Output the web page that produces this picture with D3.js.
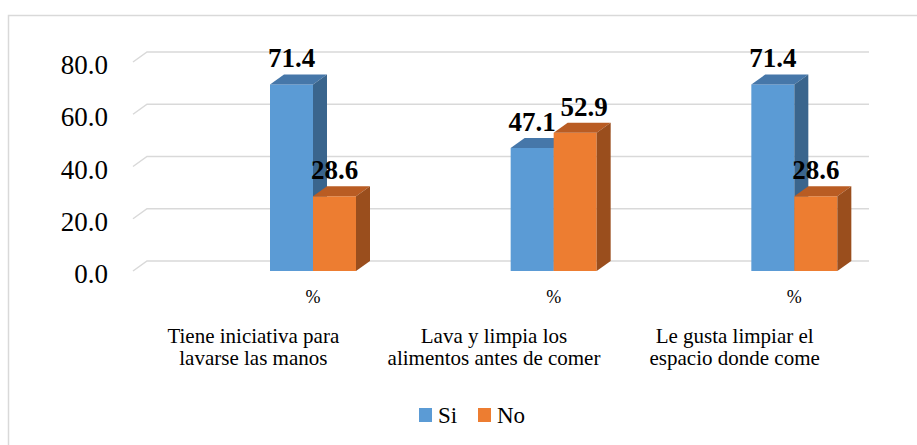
<!DOCTYPE html>
<html><head><meta charset="utf-8">
<script src="https://cdn.jsdelivr.net/npm/d3@7"></script>
<style>
body{margin:0;background:#fff}svg{display:block}
svg text{font-family:"Liberation Serif","Times New Roman",Tinos,serif !important}
</style>
</head><body><svg id="c" width="917" height="445"></svg>
<script>
const categories = [["Tiene iniciativa para","lavarse las manos"],["Lava y limpia los","alimentos antes de comer"],["Le gusta limpiar el","espacio donde come"]];
const subLabel = "%";
const seriesNames = ["Si","No"];
const siValues = [71.4, 47.1, 71.4];
const noValues = [28.6, 52.9, 28.6];
const yTicks = [0, 20, 40, 60, 80];
const colors = {Si:{front:"#5B9BD5",top:"#4677A9",side:"#3A658D"}, No:{front:"#ED7D31",top:"#B95C23",side:"#9A4E1D"}};

const svg = d3.select("#c");
const W=917,H=445;
const txt = (g)=>g.append("text").attr("fill","#000");
svg.append("rect").attr("x",8.5).attr("y",15.5).attr("width",W).attr("height",H).attr("fill","none").attr("stroke","#D9D9D9").attr("stroke-width",1.5);

const x0=133, x1=855, dx=14, dy=-10;
const x = d3.scaleBand().domain(d3.range(categories.length)).range([x0,x1]).padding(0);
const y = d3.scaleLinear().domain([0,80]).range([271,62]);
const series = [siValues, noValues];
const barW = 43, groupOffset = 137;

const grid = svg.append("g");
yTicks.forEach(t=>{
  grid.append("path").attr("d",`M${x0},${y(t)}L${x0+dx},${y(t)+dy}L${x1+dx},${y(t)+dy}`)
    .attr("fill","none").attr("stroke","#D9D9D9").attr("stroke-width",1.5);
  txt(svg).attr("x",108).attr("y",y(t)+12).attr("text-anchor","end")
    .attr("font-size",27).text(d3.format(".1f")(t));
});

const bars = svg.append("g");
const labels = [];
categories.forEach((c,i)=>{
  series.forEach((vals,s)=>{
    const name = seriesNames[s], col = colors[name];
    const bx = x(i)+groupOffset+s*barW, by = y(vals[i]), b0 = y(0);
    bars.append("rect").attr("x",bx).attr("y",by).attr("width",barW).attr("height",b0-by).attr("fill",col.front);
    bars.append("path").attr("d",`M${bx},${by}L${bx+dx},${by+dy}L${bx+barW+dx},${by+dy}L${bx+barW},${by}Z`).attr("fill",col.top);
    bars.append("path").attr("d",`M${bx+barW},${by}L${bx+barW+dx},${by+dy}L${bx+barW+dx},${b0+dy}L${bx+barW},${b0}Z`).attr("fill",col.side);
    labels.push({cx:bx+barW/2, y:by-17, text:d3.format(".1f")(vals[i]), cat:i});
  });
  txt(svg).attr("x",x(i)+groupOffset+barW).attr("y",303).attr("text-anchor","middle").attr("font-size",18).text(subLabel);
  const t = txt(svg).attr("x",x(i)+x.bandwidth()/2).attr("y",343).attr("text-anchor","middle").attr("font-size",21);
  c.forEach((line,k)=>t.append("tspan").attr("x",x(i)+x.bandwidth()/2).attr("dy",k?22:0).text(line));
});

// data labels; nudge the second label right if it collides with its neighbour (48px est. width)
const lg = svg.append("g");
let prevRight=null, prevCat=null, prevY=null;
labels.forEach(l=>{
  const w = 48;
  let cx = l.cx;
  if(prevCat===l.cat && Math.abs(prevY-l.y)<26 && cx-w/2 < prevRight+4) cx = prevRight+4+w/2;
  txt(lg).attr("x",cx).attr("y",l.y).attr("text-anchor","middle").attr("font-size",27).attr("font-weight","bold").text(l.text);
  prevRight = cx+w/2; prevCat=l.cat; prevY=l.y;
});

const leg = svg.append("g");
let lx = 419;
seriesNames.forEach((n,k)=>{
  leg.append("rect").attr("x",lx).attr("y",408).attr("width",13).attr("height",14).attr("fill",colors[n].front);
  txt(leg).attr("x",lx+19).attr("y",423).attr("font-size",23).text(n);
  lx = 478;
});
</script></body></html>
